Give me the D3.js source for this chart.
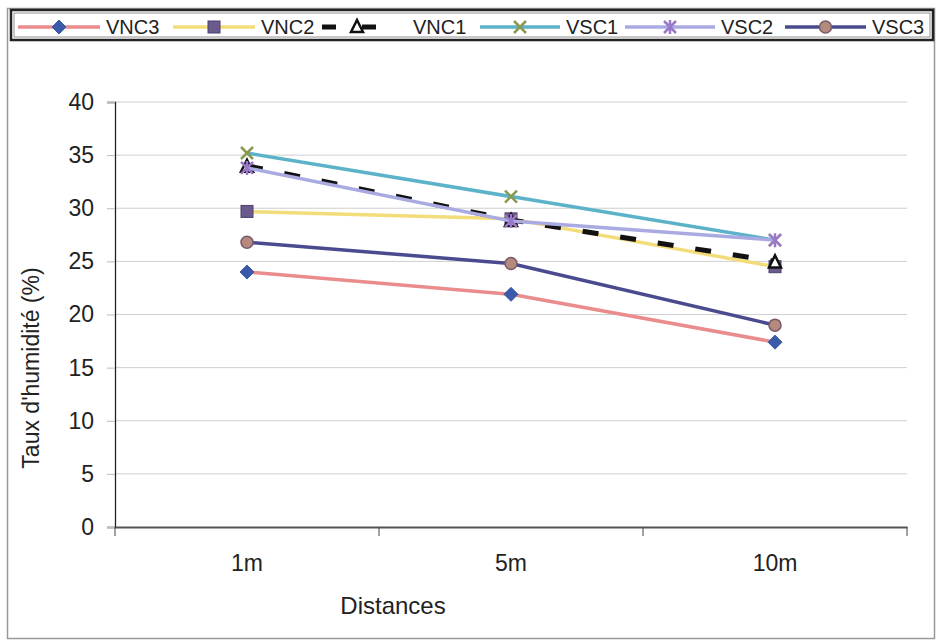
<!DOCTYPE html>
<html>
<head>
<meta charset="utf-8">
<script src="https://cdn.jsdelivr.net/npm/d3@7"></script>
<style>
  body { margin: 0; background: #fff; }
  text { font-family: "Liberation Sans", Arial, sans-serif; fill: #222; }
</style>
</head>
<body>
<svg id="chart" width="938" height="642"></svg>
<script>
const distances = ["1m", "5m", "10m"];
const seriesNames = ["VNC3", "VNC2", "VNC1", "VSC1", "VSC2", "VSC3"];
const vnc3 = [24, 21.9, 17.4];
const vnc2 = [29.7, 29, 24.5];
const vnc1 = [34, 28.9, 25];
const vsc1 = [35.2, 31.1, 27];
const vsc2 = [33.8, 28.8, 27];
const vsc3 = [26.8, 24.8, 19];
const yTicks = [0, 5, 10, 15, 20, 25, 30, 35, 40];

const svg = d3.select("svg");

const margin = {left: 115, right: 31, top: 102, bottom: 115};
const width = 938, height = 642;

const x = d3.scaleBand().domain(distances).range([margin.left, width - margin.right]);
const y = d3.scaleLinear().domain([0, 40]).range([height - margin.bottom, margin.top]);

// style of each series, same order as seriesNames
const styles = [
    {line: "#ea8c8c", marker: "diamond", fill: "#3b5ba9", stroke: "#3b5ba9", dash: null},
    {line: "#f3dc7a", marker: "square", fill: "#6a5b8c", stroke: "#6a5b8c", dash: null},
    {line: "#111", marker: "triangle", fill: "#fff", stroke: "#111", dash: "16,22"},
    {line: "#5cb3c9", marker: "x", fill: "none", stroke: "#8a9a50", dash: null},
    {line: "#aaaae2", marker: "star", fill: "none", stroke: "#9a78c8", dash: null},
    {line: "#4a4a8e", marker: "circle", fill: "#b48a7c", stroke: "#7a5a6a", dash: null}
];
const allValues = [vnc3, vnc2, vnc1, vsc1, vsc2, vsc3];

// outer frame
svg.append("rect").attr("x", 7.5).attr("y", 8.5).attr("width", 927).attr("height", 630)
    .attr("fill", "none").attr("stroke", "#999").attr("stroke-width", 1.5);

// grid
svg.append("g").selectAll("line")
    .data(yTicks.slice(1))
    .join("line")
    .attr("x1", margin.left).attr("x2", width - margin.right)
    .attr("y1", d => y(d)).attr("y2", d => y(d))
    .attr("stroke", "#cfcfcf").attr("stroke-width", 1);

// y axis
const yAxis = svg.append("g")
    .attr("transform", `translate(${margin.left},0)`)
    .call(d3.axisLeft(y).tickValues(yTicks).tickSize(8).tickPadding(13));
yAxis.select(".domain").attr("stroke", "#222").attr("stroke-width", 1.3);
yAxis.selectAll(".tick line").attr("stroke", "#bbb");
yAxis.selectAll("text").style("font-size", "23px").attr("fill", "#222");

// x axis
const xAxis = svg.append("g")
    .attr("transform", `translate(0,${y(0)})`)
    .call(d3.axisBottom(x).tickSize(0).tickPadding(28));
xAxis.select(".domain").attr("stroke", "#555").attr("stroke-width", 2);
xAxis.selectAll("text").style("font-size", "23px").attr("fill", "#222");
const xBounds = distances.map(d => x(d)).concat([x.range()[1]]);
xAxis.selectAll("line.sep")
    .data(xBounds)
    .join("line")
    .attr("class", "sep")
    .attr("x1", d => d).attr("x2", d => d)
    .attr("y1", 0).attr("y2", 9)
    .attr("stroke", "#444");

// axis titles
svg.append("text")
    .attr("transform", "translate(39,368) rotate(-90)")
    .attr("text-anchor", "middle")
    .style("font-size", "23px")
    .text("Taux d'humidité (%)");
svg.append("text")
    .attr("x", 393).attr("y", 614)
    .attr("text-anchor", "middle")
    .style("font-size", "24px")
    .text("Distances");

function drawMarker(g, type, cx, cy, st) {
    const s = 6;
    if (type === "diamond") {
        g.append("path").attr("d", `M${cx},${cy - s - 1}L${cx + s + 1},${cy}L${cx},${cy + s + 1}L${cx - s - 1},${cy}Z`)
            .attr("fill", st.fill).attr("stroke", st.stroke);
    } else if (type === "square") {
        g.append("rect").attr("x", cx - s).attr("y", cy - s).attr("width", 2 * s).attr("height", 2 * s)
            .attr("fill", st.fill).attr("stroke", "#4a4070");
    } else if (type === "triangle") {
        g.append("path").attr("d", `M${cx},${cy - s}L${cx + s},${cy + s}L${cx - s},${cy + s}Z`)
            .attr("fill", st.fill).attr("stroke", st.stroke).attr("stroke-width", 2.5);
    } else if (type === "x") {
        g.append("path").attr("d", `M${cx - s},${cy - s}L${cx + s},${cy + s}M${cx - s},${cy + s}L${cx + s},${cy - s}`)
            .attr("stroke", st.stroke).attr("stroke-width", 2.5);
    } else if (type === "star") {
        g.append("path").attr("d", `M${cx - s},${cy - s}L${cx + s},${cy + s}M${cx - s},${cy + s}L${cx + s},${cy - s}M${cx},${cy - s - 1}L${cx},${cy + s + 1}`)
            .attr("stroke", st.stroke).attr("stroke-width", 2.5);
    } else if (type === "circle") {
        g.append("circle").attr("cx", cx).attr("cy", cy).attr("r", s)
            .attr("fill", st.fill).attr("stroke", st.stroke).attr("stroke-width", 1.5);
    }
}

const line = d3.line()
    .x((d, i) => x(distances[i]) + x.bandwidth() / 2)
    .y(d => y(d));

// series lines and markers
allValues.forEach(function (values, k) {
    const st = styles[k];
    const g = svg.append("g").attr("class", "series");
    g.append("path")
        .datum(values)
        .attr("d", line)
        .attr("fill", "none")
        .attr("stroke", st.line)
        .attr("stroke-width", k === 2 ? 5 : 3.5)
        .attr("stroke-dasharray", st.dash);
    values.forEach(function (v, i) {
        drawMarker(g, st.marker, x(distances[i]) + x.bandwidth() / 2, y(v), st);
    });
});

// legend
const legend = svg.append("g");
legend.append("rect").attr("x", 11).attr("y", 10).attr("width", 922).attr("height", 30)
    .attr("fill", "#fff").attr("stroke", "#222").attr("stroke-width", 2.5);
legend.append("rect").attr("x", 14).attr("y", 13).attr("width", 916).attr("height", 24)
    .attr("fill", "none").attr("stroke", "#777").attr("stroke-width", 0.8);
const legendLine = [18, 173, 322, 480, 625, 785];
const legendText = [106, 261, 413, 566, 721, 872];
seriesNames.forEach(function (name, k) {
    const st = styles[k];
    const lx = legendLine[k];
    const ly = 27;
    if (k === 2) {
        legend.append("line").attr("x1", lx).attr("x2", lx + 14).attr("y1", ly).attr("y2", ly)
            .attr("stroke", "#111").attr("stroke-width", 5);
        drawMarker(legend, "triangle", lx + 35, ly - 1, {fill: "#fff", stroke: "#111"});
        legend.append("line").attr("x1", lx + 40).attr("x2", lx + 54).attr("y1", ly).attr("y2", ly)
            .attr("stroke", "#111").attr("stroke-width", 5);
    } else {
        const lx2 = legendText[k] - 6;
        legend.append("line").attr("x1", lx).attr("x2", lx2).attr("y1", ly).attr("y2", ly)
            .attr("stroke", st.line).attr("stroke-width", 3.5);
        drawMarker(legend, st.marker, (lx + lx2) / 2, ly, st);
    }
    legend.append("text").attr("x", legendText[k]).attr("y", ly + 7).style("font-size", "20px").text(name);
});
</script>
</body>
</html>
